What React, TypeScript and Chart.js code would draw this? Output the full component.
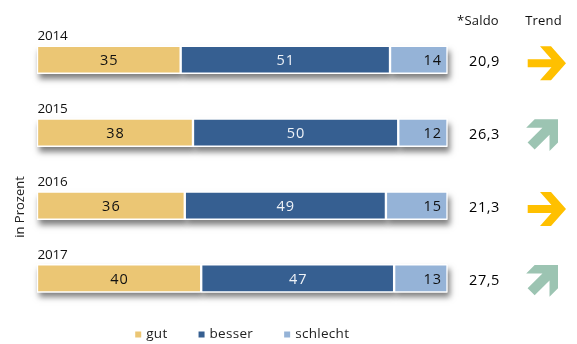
import React, { useEffect, useRef } from "react";
import { Chart, registerables } from "chart.js";

Chart.register(...registerables);

const years = ["2014", "2015", "2016", "2017"];
const gut = [35, 38, 36, 40];
const besser = [51, 50, 49, 47];
const schlecht = [14, 12, 15, 13];
const saldo = [20.9, 26.3, 21.3, 27.5];
const trend = ["right", "up", "right", "up"];
const seriesNames = ["gut", "besser", "schlecht"];
const seriesColors = ["#EBC674", "#365F91", "#95B3D7"];
const valueColors = ["#111111", "#EEF2F7", "#111111"];
const yTitle = "in Prozent";
const saldoHeader = "*Saldo";
const trendHeader = "Trend";
const arrowColors: Record<string, string> = { right: "#FFC000", up: "#9CC4B2" };

const FONT = '"Open Sans", sans-serif';

function arrowPath(ctx: CanvasRenderingContext2D, hx: number, hy: number, t: number, w: number, L: number) {
  const xi = (-hx * w) / hy - t;
  ctx.beginPath();
  ctx.moveTo(-L, -w);
  ctx.lineTo(xi, -w);
  ctx.lineTo(-hx - t, -hy);
  ctx.lineTo(-hx, -hy);
  ctx.lineTo(0, 0);
  ctx.lineTo(-hx, hy);
  ctx.lineTo(-hx - t, hy);
  ctx.lineTo(xi, w);
  ctx.lineTo(-L, w);
  ctx.closePath();
  ctx.fill();
}

function setSpacing(ctx: any, v: string) {
  if ("letterSpacing" in ctx) ctx.letterSpacing = v;
}

const overlay = {
  id: "overlay",
  beforeDatasetsDraw(chart: any) {
    const ctx: CanvasRenderingContext2D = chart.ctx;
    ctx.save();
    ctx.shadowColor = "rgba(0,0,0,0.5)";
    ctx.shadowBlur = 6;
    ctx.shadowOffsetX = 2;
    ctx.shadowOffsetY = 5;
    ctx.fillStyle = "#ffffff";
    chart.data.datasets.forEach((_ds: any, di: number) => {
      chart.getDatasetMeta(di).data.forEach((el: any) => {
        const p = el.getProps(["x", "y", "base", "height"], true);
        const l = Math.min(p.x, p.base);
        const r = Math.max(p.x, p.base);
        ctx.fillRect(l, p.y - p.height / 2, r - l, p.height);
      });
    });
    ctx.restore();
  },
  afterDatasetsDraw(chart: any) {
    const ctx: CanvasRenderingContext2D = chart.ctx;
    const area = chart.chartArea;
    const yScale = chart.scales.y;
    ctx.save();

    // values inside bars
    chart.data.datasets.forEach((ds: any, di: number) => {
      chart.getDatasetMeta(di).data.forEach((el: any, i: number) => {
        const p = el.getProps(["x", "y", "base"], true);
        ctx.font = `14.5px ${FONT}`;
        setSpacing(ctx, "1px");
        ctx.fillStyle = valueColors[di];
        ctx.textBaseline = "middle";
        const v = String(ds.data[i]);
        if (di === 2) {
          ctx.textAlign = "right";
          ctx.fillText(v, Math.max(p.x, p.base) - 5.5, p.y + 1.5);
        } else {
          ctx.textAlign = "center";
          ctx.fillText(v, (p.x + p.base) / 2 + 0.5, p.y + 1.5);
        }
      });
    });
    setSpacing(ctx, "0px");

    // year labels, saldo, arrows
    years.forEach((yr, i) => {
      const cy = yScale.getPixelForValue(i);
      ctx.font = `13.5px ${FONT}`;
      setSpacing(ctx, "-0.2px");
      ctx.fillStyle = "#111111";
      ctx.textAlign = "left";
      ctx.textBaseline = "middle";
      ctx.fillText(yr, area.left + 0.5, cy - 23.5);

      ctx.font = `14.5px ${FONT}`;
      setSpacing(ctx, "0.6px");
      ctx.textAlign = "center";
      ctx.fillStyle = "#000000";
      ctx.fillText(saldo[i].toFixed(1).replace(".", ","), area.right + 37, cy + 2);
      setSpacing(ctx, "0px");

      ctx.save();
      ctx.fillStyle = arrowColors[trend[i]];
      if (trend[i] === "right") {
        ctx.translate(area.right + 118.5, cy + 3.5);
        arrowPath(ctx, 15, 17, 11, 4, 38.3);
      } else {
        ctx.translate(area.right + 110.5, cy - 13.5);
        ctx.rotate(-Math.PI / 4);
        arrowPath(ctx, 16.5, 16.5, 12, 5, 38);
      }
      ctx.restore();
    });

    // headers
    ctx.font = `13px ${FONT}`;
    setSpacing(ctx, "0.2px");
    ctx.fillStyle = "#111111";
    ctx.textAlign = "center";
    ctx.textBaseline = "middle";
    ctx.fillText(saldoHeader, area.right + 30.5, 21);
    ctx.fillText(trendHeader, area.right + 96, 21);
    setSpacing(ctx, "0px");

    // y title
    ctx.save();
    ctx.translate(20, 207);
    ctx.rotate(-Math.PI / 2);
    ctx.font = `13px ${FONT}`;
    ctx.fillStyle = "#222222";
    ctx.textAlign = "center";
    ctx.textBaseline = "middle";
    ctx.fillText(yTitle, 0, 0);
    ctx.restore();

    // legend
    ctx.font = `13.5px ${FONT}`;
    setSpacing(ctx, "0.3px");
    const box = 6;
    const gapText = 5;
    const gapItem = 31;
    const widths = seriesNames.map((n) => box + gapText + ctx.measureText(n).width);
    const total = widths.reduce((a, b) => a + b, 0) + gapItem * (seriesNames.length - 1);
    let x = (area.left + area.right) / 2 - total / 2;
    const ly = 334.5;
    seriesNames.forEach((n, i) => {
      ctx.fillStyle = seriesColors[i];
      ctx.fillRect(x, ly - box / 2, box, box);
      ctx.fillStyle = "#222222";
      ctx.textAlign = "left";
      ctx.textBaseline = "middle";
      ctx.fillText(n, x + box + gapText, ly);
      x += widths[i] + gapItem;
    });
    setSpacing(ctx, "0px");

    ctx.restore();
  },
};

export default function App() {
  const ref = useRef<HTMLCanvasElement | null>(null);
  useEffect(() => {
    if (!ref.current) return;
    const seriesData = [gut, besser, schlecht];
    const chart = new Chart(ref.current, {
      type: "bar",
      data: {
        labels: years,
        datasets: seriesNames.map((name, i) => ({
          label: name,
          data: seriesData[i],
          backgroundColor: seriesColors[i],
          borderColor: "#ffffff",
          borderWidth: 1.5,
          borderSkipped: false,
          barThickness: 28,
        })),
      },
      options: {
        indexAxis: "y",
        responsive: false,
        animation: false,
        layout: { padding: { left: 37, right: 129.5, top: 23.3, bottom: 29.1 } },
        scales: {
          x: { stacked: true, min: 0, max: 100, display: false },
          y: { stacked: true, display: false },
        },
        plugins: { legend: { display: false }, tooltip: { enabled: false } },
      },
      plugins: [overlay],
    });
    return () => chart.destroy();
  }, []);
  return (
    <div style={{ position: "fixed", left: 0, top: 0, width: 577, height: 344, background: "#fff" }}>
      <canvas ref={ref} width={577} height={344} style={{ display: "block", width: 577, height: 344 }} />
    </div>
  );
}
